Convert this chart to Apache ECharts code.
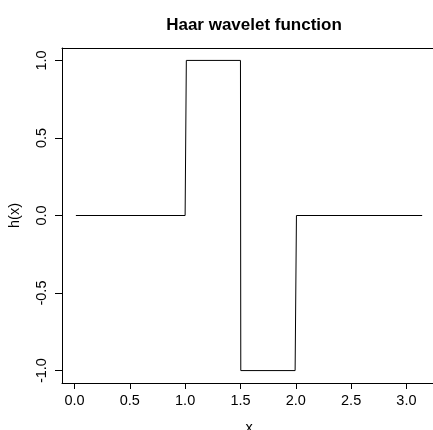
<!DOCTYPE html>
<html>
<head>
<meta charset="utf-8">
<script src="https://cdn.jsdelivr.net/npm/echarts@6/dist/echarts.min.js"></script>
<style>
html,body{margin:0;padding:0;background:#fff;overflow:hidden;}
#chart{width:433px;height:430px;}
</style>
</head>
<body>
<div id="chart"></div>
<script>
const xValues = [0.013, 1.000, 1.011, 1.500, 1.503, 1.994, 2.006, 3.142];
const hValues = [0, 0, 1, 1, -1, -1, 0, 0];
const xTicks = [0, 0.5, 1.0, 1.5, 2.0, 2.5, 3.0];
const yTicks = [-1.0, -0.5, 0.0, 0.5, 1.0];
const titleText = 'Haar wavelet function';
const xName = 'x';
const yName = 'h(x)';

const FONT = "'Liberation Sans', Arial, Helvetica, sans-serif";
const X_MIN = -0.1126, X_MAX = 3.267;
const chart = echarts.init(document.getElementById('chart'), null, {renderer: 'canvas'});
chart.setOption({
  animation: false,
  backgroundColor: '#fff',
  title: {
    text: titleText,
    left: 249,
    top: 12,
    textAlign: 'center',
    textStyle: {fontFamily: FONT, fontWeight: 'bold', fontSize: 17, color: '#000'}
  },
  grid: {
    left: 62, top: 48, height: 335, width: 374,
    show: false,
    containLabel: false,
    outerBoundsMode: 'none'
  },
  xAxis: [{
    type: 'value', min: X_MIN, max: X_MAX, position: 'bottom',
    name: xName, nameLocation: 'middle', nameGap: 37,
    nameTextStyle: {fontFamily: FONT, fontSize: 14.5, color: '#000'},
    axisLine: {show: true, onZero: false, lineStyle: {color: '#000', width: 1}},
    splitLine: {show: false},
    axisTick: {show: true, inside: false, length: 6, customValues: xTicks, lineStyle: {color: '#000', width: 1}},
    axisLabel: {show: true, customValues: xTicks, margin: 10, fontFamily: FONT, fontSize: 14.5, color: '#000',
      formatter: v => v.toFixed(1)}
  }, {
    type: 'value', min: X_MIN, max: X_MAX, position: 'top',
    axisLine: {show: true, onZero: false, lineStyle: {color: '#000', width: 1}},
    splitLine: {show: false},
    axisTick: {show: false},
    axisLabel: {show: false}
  }],
  yAxis: {
    type: 'value', min: -1.08, max: 1.08,
    name: yName, nameLocation: 'middle', nameGap: 40, nameRotate: 90,
    nameTextStyle: {fontFamily: FONT, fontSize: 14.5, color: '#000'},
    axisLine: {show: true, onZero: false, lineStyle: {color: '#000', width: 1}},
    splitLine: {show: false},
    axisTick: {show: true, inside: false, length: 7, customValues: yTicks, lineStyle: {color: '#000', width: 1}},
    axisLabel: {show: true, customValues: yTicks, rotate: 90, margin: 13, fontFamily: FONT, fontSize: 14.5, color: '#000',
      formatter: v => v.toFixed(1)}
  },
  series: [{
    type: 'line',
    xAxisIndex: 0,
    data: xValues.map((x, i) => [x, hValues[i]]),
    symbol: 'none',
    lineStyle: {color: '#000', width: 1},
    clip: false
  }]
});
</script>
</body>
</html>
